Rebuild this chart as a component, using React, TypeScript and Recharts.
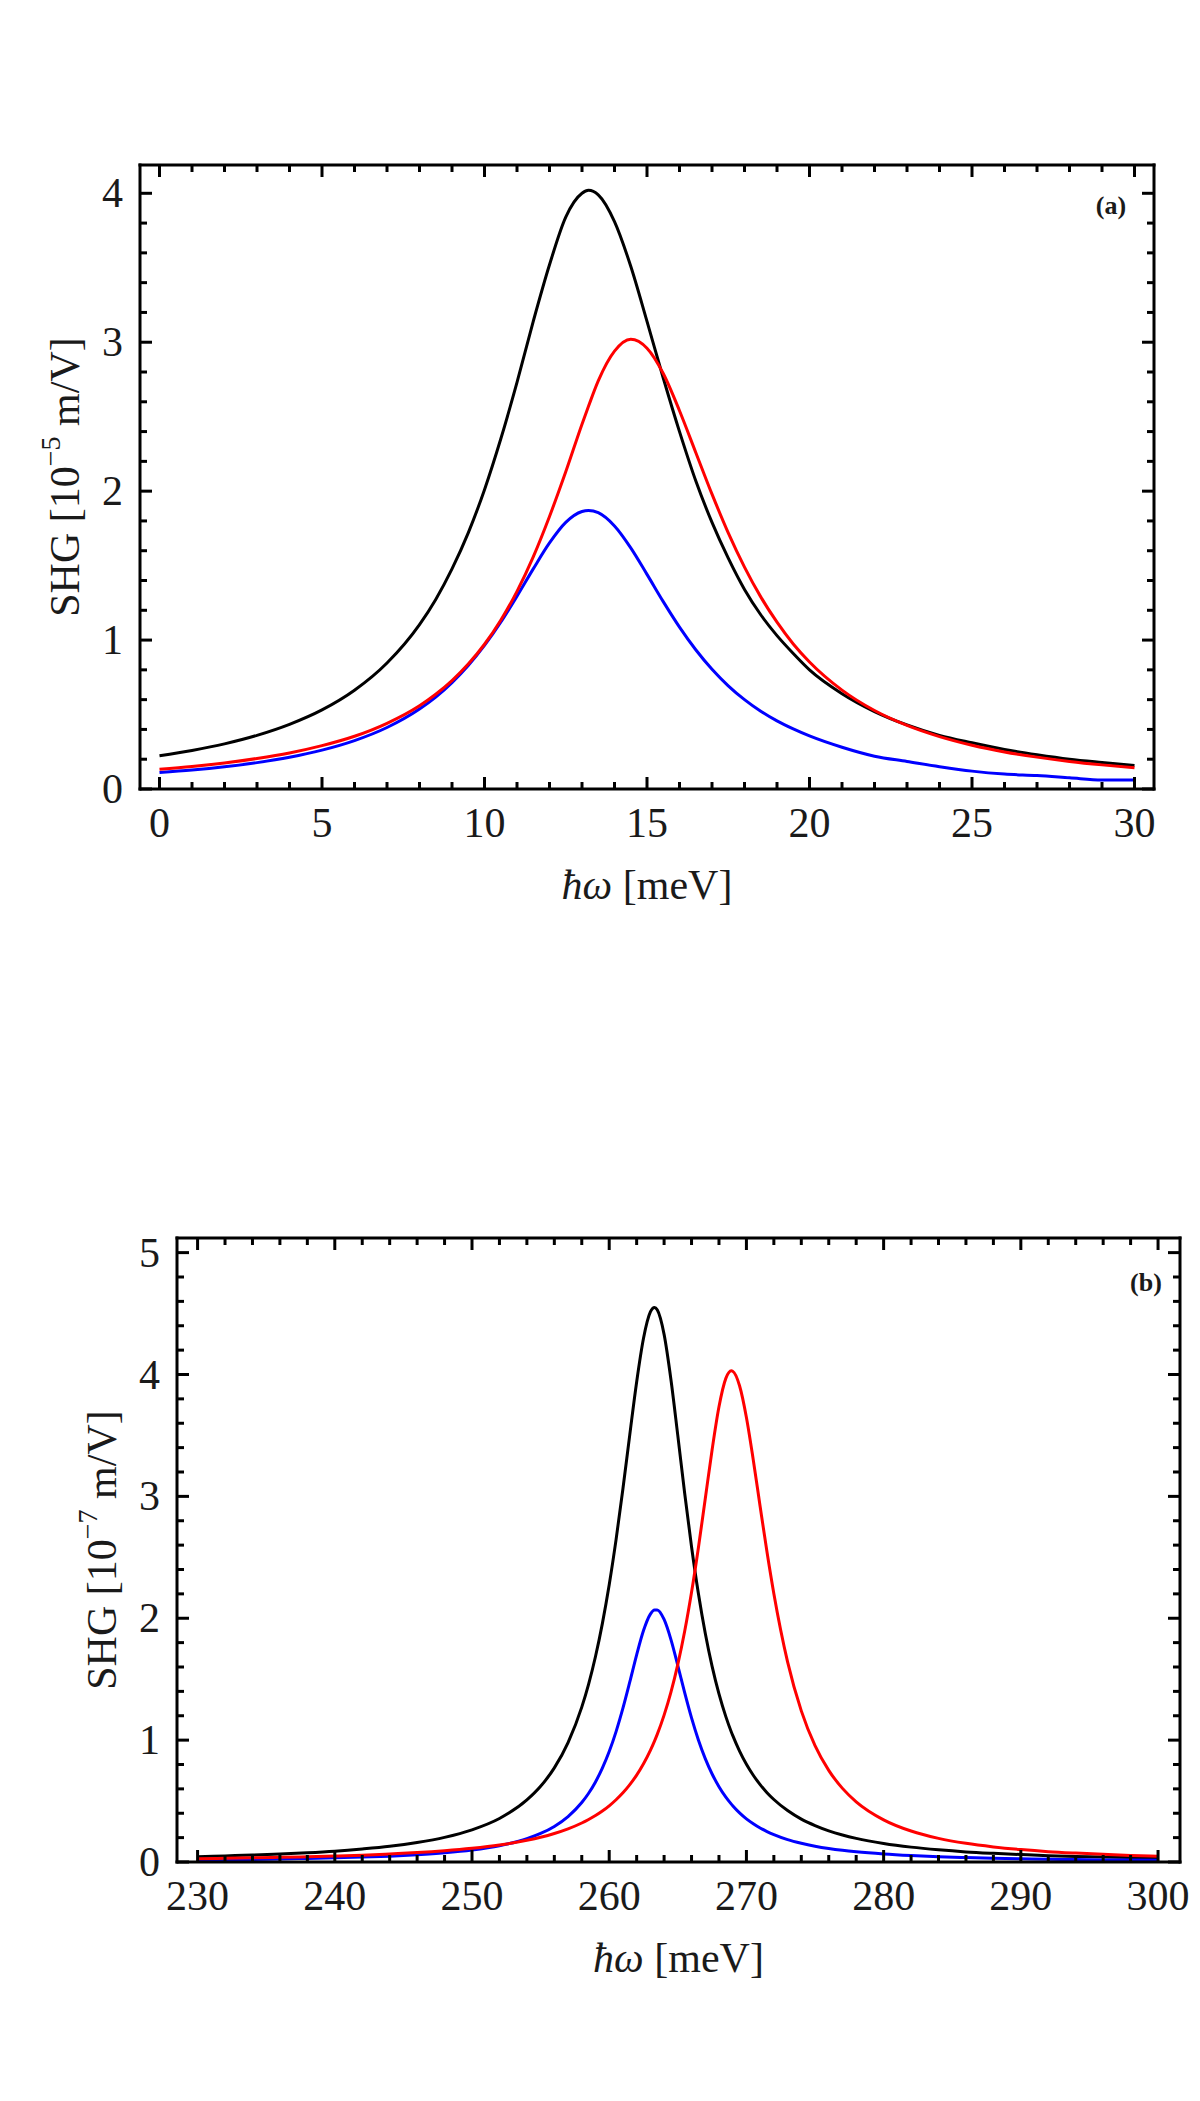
import React from 'react';
import { LineChart, Line, XAxis, YAxis, Label } from 'recharts';

// panel (a): hbar*omega in meV, SHG in 1e-5 m/V
const xA = [0, 1, 2, 3, 4, 5, 6, 7, 8, 8.5, 9, 9.5, 10, 10.5, 11, 11.5, 12, 12.5, 13, 13.2, 13.5, 14, 14.5, 15, 15.5, 16, 16.5, 17, 17.5, 18, 18.5, 19, 19.5, 20, 21, 22, 23, 24, 25, 26, 27, 28, 29, 30];
const blackA = [0.223, 0.259, 0.303, 0.36, 0.434, 0.531, 0.663, 0.846, 1.104, 1.273, 1.478, 1.72, 2.01, 2.35, 2.73, 3.14, 3.52, 3.84, 4.0, 4.02, 3.99, 3.81, 3.51, 3.14, 2.76, 2.4, 2.07, 1.79, 1.55, 1.34, 1.17, 1.03, 0.91, 0.8, 0.64, 0.52, 0.43, 0.36, 0.31, 0.265, 0.23, 0.2, 0.178, 0.158];
const redA = [0.132, 0.151, 0.175, 0.205, 0.242, 0.291, 0.354, 0.441, 0.559, 0.636, 0.728, 0.839, 0.972, 1.133, 1.327, 1.559, 1.83, 2.13, 2.45, 2.57, 2.74, 2.94, 3.02, 2.96, 2.79, 2.54, 2.26, 1.98, 1.72, 1.49, 1.29, 1.12, 0.974, 0.853, 0.664, 0.527, 0.427, 0.352, 0.294, 0.249, 0.214, 0.185, 0.162, 0.143];
const blueA = [0.11, 0.127, 0.149, 0.177, 0.213, 0.261, 0.325, 0.413, 0.537, 0.617, 0.714, 0.829, 0.964, 1.12, 1.295, 1.478, 1.652, 1.79, 1.863, 1.87, 1.855, 1.766, 1.619, 1.441, 1.258, 1.087, 0.935, 0.804, 0.693, 0.6, 0.522, 0.457, 0.403, 0.356, 0.28, 0.22, 0.185, 0.15, 0.12, 0.1, 0.09, 0.075, 0.06, 0.06];

// panel (b): hbar*omega in meV, SHG in 1e-7 m/V
const xB = [230, 232, 234, 236, 238, 240, 242, 244, 246, 248, 250, 252, 254, 255, 256, 257, 258, 258.5, 259, 259.5, 260, 260.5, 261, 261.5, 262, 262.5, 263, 263.3, 263.5, 264, 264.5, 265, 265.5, 266, 266.5, 267, 267.5, 268, 268.5, 268.9, 269, 269.5, 270, 270.5, 271, 271.5, 272, 273, 274, 275, 276, 277, 278, 280, 282, 284, 286, 288, 290, 292, 294, 296, 298, 300];
const blackB = [0.044, 0.05, 0.057, 0.066, 0.076, 0.089, 0.107, 0.129, 0.16, 0.202, 0.264, 0.357, 0.509, 0.621, 0.772, 0.98, 1.271, 1.46, 1.686, 1.956, 2.275, 2.645, 3.062, 3.507, 3.939, 4.297, 4.513, 4.55, 4.531, 4.329, 3.957, 3.498, 3.026, 2.587, 2.203, 1.877, 1.605, 1.379, 1.193, 1.067, 1.039, 0.91, 0.802, 0.712, 0.635, 0.569, 0.513, 0.422, 0.352, 0.299, 0.256, 0.222, 0.194, 0.152, 0.122, 0.1, 0.083, 0.071, 0.061, 0.052, 0.046, 0.041, 0.036, 0.032];
const redB = [0.027, 0.03, 0.034, 0.038, 0.043, 0.049, 0.056, 0.066, 0.077, 0.092, 0.112, 0.139, 0.178, 0.203, 0.234, 0.272, 0.32, 0.349, 0.381, 0.418, 0.461, 0.511, 0.568, 0.635, 0.713, 0.806, 0.916, 0.992, 1.047, 1.205, 1.394, 1.622, 1.893, 2.213, 2.579, 2.98, 3.383, 3.735, 3.968, 4.03, 4.027, 3.908, 3.648, 3.299, 2.917, 2.543, 2.201, 1.642, 1.24, 0.955, 0.752, 0.604, 0.494, 0.346, 0.254, 0.194, 0.153, 0.124, 0.102, 0.085, 0.073, 0.063, 0.054, 0.048];
const blueB = [0.017, 0.019, 0.021, 0.025, 0.029, 0.034, 0.04, 0.048, 0.06, 0.076, 0.099, 0.134, 0.191, 0.234, 0.292, 0.373, 0.488, 0.564, 0.657, 0.77, 0.906, 1.07, 1.262, 1.477, 1.7, 1.899, 2.034, 2.068, 2.068, 1.99, 1.825, 1.612, 1.389, 1.182, 1.001, 0.848, 0.722, 0.618, 0.532, 0.475, 0.462, 0.403, 0.354, 0.314, 0.279, 0.25, 0.225, 0.184, 0.154, 0.13, 0.111, 0.096, 0.084, 0.066, 0.053, 0.043, 0.036, 0.03, 0.026, 0.023, 0.02, 0.017, 0.016, 0.014];

// tick labels
const majorXA = [0, 5, 10, 15, 20, 25, 30];
const majorYA = [0, 1, 2, 3, 4];
const majorXB = [230, 240, 250, 260, 270, 280, 290, 300];
const majorYB = [0, 1, 2, 3, 4, 5];

const stepTicks = (from: number, to: number, step: number) =>
  Array.from({ length: Math.round((to - from) / step) + 1 }, (_, i) => +(from + i * step).toFixed(3));

const ticksXA = stepTicks(0, 30, 1);
const ticksYA = stepTicks(0, 4, 0.2);
const ticksXB = stepTicks(230, 300, 2);
const ticksYB = stepTicks(0, 5, 0.2);

const dataA = xA.map((x, i) => ({ x, black: blackA[i], red: redA[i], blue: blueA[i] }));
const dataB = xB.map((x, i) => ({ x, black: blackB[i], red: redB[i], blue: blueB[i] }));

const FONT = '"Liberation Serif", "DejaVu Serif", serif';
const INK = '#1a1a1a';
const frameLine = { stroke: '#000', strokeWidth: 3, strokeLinecap: 'square' as const };

type Side = 'bottom' | 'top' | 'left' | 'right';

// frame ticks point inwards, like Mathematica's Frame -> True
const frameTick = (side: Side, majors: number[], labels: boolean) => (props: any) => {
  const { x, y, payload } = props;
  const v = Number(payload.value);
  const major = majors.some((m) => Math.abs(m - v) < 1e-6);
  const len = major ? 12 : 7;
  let x2 = x;
  let y2 = y;
  if (side === 'bottom') y2 = y - len;
  if (side === 'top') y2 = y + len;
  if (side === 'left') x2 = x + len;
  if (side === 'right') x2 = x - len;
  return (
    <g>
      <line x1={x} y1={y} x2={x2} y2={y2} stroke="#000" strokeWidth={3} />
      {labels && major && side === 'bottom' && (
        <text x={x} y={y + 34} textAnchor="middle" dominantBaseline="central" fontFamily={FONT} fontSize={42} fill={INK}>
          {v}
        </text>
      )}
      {labels && major && side === 'left' && (
        <text x={x - 17} y={y} textAnchor="end" dominantBaseline="central" fontFamily={FONT} fontSize={42} fill={INK}>
          {v}
        </text>
      )}
    </g>
  );
};

const xTitle = (props: any) => {
  const vb = props.viewBox || { x: 0, y: 0, width: 0 };
  return (
    <text x={vb.x + vb.width / 2} y={vb.y + 96} textAnchor="middle" dominantBaseline="central" fontFamily={FONT} fontSize={42} fill={INK}>
      <tspan fontStyle="italic">ħω</tspan> [meV]
    </text>
  );
};

const yTitle = (exp: string) => (props: any) => {
  const vb = props.viewBox || { x: 0, y: 0, width: 0, height: 0 };
  const cx = vb.x + vb.width - 75;
  const cy = vb.y + vb.height / 2;
  return (
    <text transform={`translate(${cx},${cy}) rotate(-90)`} textAnchor="middle" dominantBaseline="central" fontFamily={FONT} fontSize={42} fill={INK}>
      SHG [10<tspan dy={-15} fontSize={28}>{exp}</tspan>
      <tspan dy={15}> m/V]</tspan>
    </text>
  );
};

const panelTag = (tag: string, dx: number, dy: number) => (props: any) => {
  const vb = props.viewBox || { x: 0, y: 0 };
  return (
    <text x={vb.x - dx} y={vb.y + dy} textAnchor="middle" dominantBaseline="central" fontFamily={FONT} fontSize={26} fontWeight="bold" fill={INK}>
      {tag}
    </text>
  );
};

type PanelProps = {
  data: { x: number; black: number; red: number; blue: number }[];
  top: number;
  height: number;
  margin: { top: number; right: number; bottom: number; left: number };
  xDomain: [number, number];
  yDomain: [number, number];
  xTicks: number[];
  yTicks: number[];
  xMajors: number[];
  yMajors: number[];
  exp: string;
  tag: string;
  tagDx: number;
  tagDy: number;
};

function Panel(p: PanelProps) {
  return (
    <div style={{ position: 'absolute', left: 0, top: p.top }}>
      <LineChart width={1200} height={p.height} data={p.data} margin={p.margin}>
        <XAxis
          xAxisId="b"
          dataKey="x"
          type="number"
          domain={p.xDomain}
          allowDataOverflow
          ticks={p.xTicks}
          interval={0}
          tickSize={0}
          tickMargin={0}
          tickLine={false}
          axisLine={frameLine}
          tick={frameTick('bottom', p.xMajors, true)}
          height={1}
        >
          <Label content={xTitle} />
        </XAxis>
        <XAxis
          xAxisId="t"
          orientation="top"
          dataKey="x"
          type="number"
          domain={p.xDomain}
          allowDataOverflow
          ticks={p.xTicks}
          interval={0}
          tickSize={0}
          tickMargin={0}
          tickLine={false}
          axisLine={frameLine}
          tick={frameTick('top', p.xMajors, false)}
          height={1}
        />
        <YAxis
          yAxisId="l"
          type="number"
          domain={p.yDomain}
          allowDataOverflow
          ticks={p.yTicks}
          interval={0}
          tickSize={0}
          tickMargin={0}
          tickLine={false}
          axisLine={frameLine}
          tick={frameTick('left', p.yMajors, true)}
          width={1}
        >
          <Label content={yTitle(p.exp)} />
        </YAxis>
        <YAxis
          yAxisId="r"
          orientation="right"
          type="number"
          domain={p.yDomain}
          allowDataOverflow
          ticks={p.yTicks}
          interval={0}
          tickSize={0}
          tickMargin={0}
          tickLine={false}
          axisLine={frameLine}
          tick={frameTick('right', p.yMajors, false)}
          width={1}
        >
          <Label content={panelTag(p.tag, p.tagDx, p.tagDy)} />
        </YAxis>
        {/* keeps the mirrored frame axes tied to the same data */}
        <Line xAxisId="t" yAxisId="r" dataKey="black" stroke="none" dot={false} activeDot={false} isAnimationActive={false} />
        <Line xAxisId="b" yAxisId="l" type="monotone" dataKey="black" stroke="#000000" strokeWidth={3} dot={false} isAnimationActive={false} />
        <Line xAxisId="b" yAxisId="l" type="monotone" dataKey="blue" stroke="#0000ff" strokeWidth={3} dot={false} isAnimationActive={false} />
        <Line xAxisId="b" yAxisId="l" type="monotone" dataKey="red" stroke="#ff0000" strokeWidth={3} dot={false} isAnimationActive={false} />
      </LineChart>
    </div>
  );
}

export default function App() {
  return (
    <div style={{ position: 'absolute', left: 0, top: 0, width: 1200, height: 2101, background: '#fff' }}>
      <Panel
        data={dataA}
        top={0}
        height={1000}
        margin={{ top: 164, right: 45, bottom: 210, left: 139 }}
        xDomain={[-0.6, 30.6]}
        yDomain={[0, 4.19]}
        xTicks={ticksXA}
        yTicks={ticksYA}
        xMajors={majorXA}
        yMajors={majorYA}
        exp="−5"
        tag="(a)"
        tagDx={43}
        tagDy={40}
      />
      <Panel
        data={dataB}
        top={1050}
        height={1051}
        margin={{ top: 187, right: 19, bottom: 238, left: 176 }}
        xDomain={[228.5, 301.6]}
        yDomain={[0, 5.12]}
        xTicks={ticksXB}
        yTicks={ticksYB}
        xMajors={majorXB}
        yMajors={majorYB}
        exp="−7"
        tag="(b)"
        tagDx={34}
        tagDy={44}
      />
    </div>
  );
}
